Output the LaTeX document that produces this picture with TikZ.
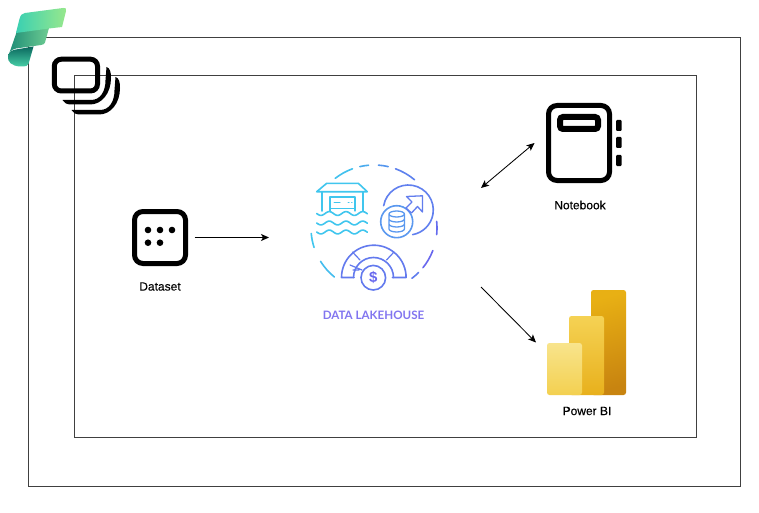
\documentclass[tikz,border=0pt]{standalone}
\usepackage{fontspec}
\setmainfont{Liberation Sans}
\newfontfamily\lakefont{Lato}
\newfontfamily\lblfont[FakeBold=0.3]{Liberation Sans}
\usetikzlibrary{arrows.meta}
\definecolor{frameline}{HTML}{404040}
\definecolor{lakecyan}{HTML}{40C6EE}
\definecolor{lakeblue}{HTML}{5A98EF}
\definecolor{lakepurple}{HTML}{6C5CEE}
\tikzset{
  frame/.style={rectangle,draw=frameline,line width=0.9pt,inner sep=0pt},
  flow/.style={line width=0.85pt,black},
  iconbox/.style={rectangle,draw=black,line width=5pt,rounded corners=8.5pt,fill=white,inner sep=0pt},
  lbl/.style={inner sep=0pt,font=\lblfont\fontsize{12}{14}\selectfont,black},
  lakeline/.style={line width=1.6pt,line cap=round,line join=round},
  bar/.style={rounded corners=2.5pt}
}
\begin{document}
\begin{tikzpicture}[x=1pt,y=-1pt,>={Stealth[length=8pt,width=7pt,inset=2pt]}]
  \useasboundingbox (0,0) rectangle (759,513);
  \fill[white] (0,0) rectangle (759,513);
  % frames
  \node[frame,minimum width=712pt,minimum height=449pt](outer) at (384,262.3){};
  \node[frame,minimum width=622pt,minimum height=362pt](inner) at (385,256){};
  % logo
  \shade[left color={rgb,255:red,28;green,140;blue,118},right color={rgb,255:red,110;green,204;blue,146}]
    (17,31) -- (49,28) -- (45,42.5) .. controls (44.5,44) and (43.5,44.5) .. (41,45) -- (16,48.5)
    .. controls (11,49.5) and (8.5,53) .. (8,57) -- cycle;
  \shade[left color={rgb,255:red,58;green,208;blue,178},right color={rgb,255:red,152;green,232;blue,140}]
    (25,13) -- (63,8) .. controls (66,7.6) and (66.5,9) .. (66,11) -- (62,27) -- (49,28.5) -- (16,33)
    -- (19.5,19) .. controls (20.5,15) and (22,13.4) .. (25,13) -- cycle;
  \shade[top color={rgb,255:red,10;green,104;blue,94},bottom color={rgb,255:red,70;green,206;blue,166}]
    (33.5,46.5) -- (28.5,64) .. controls (28,66) and (26,66.5) .. (20,66.5)
    .. controls (12,66) and (7,62) .. (8,56) .. controls (9,52) and (12,50) .. (16,49.5) -- cycle;
  % stack icon
  \draw[black,line width=5pt,rounded corners=7pt] (54.3,59.2) rectangle (97.5,91);
  \fill[black] (106.5,67) .. controls (110,68) and (111,72) .. (111,78) .. controls (111,93) and (102,104.5) .. (90,104.5)
    -- (71,104.5) .. controls (67,104.5) and (64,103) .. (62.5,100) -- (91,100)
    .. controls (100,100) and (105.5,92) .. (105.5,80) -- cycle;
  \fill[black,shift={(9,10)}] (106.5,67) .. controls (110,68) and (111,72) .. (111,78) .. controls (111,93) and (102,104.5) .. (90,104.5)
    -- (71,104.5) .. controls (67,104.5) and (64,103) .. (62.5,100) -- (91,100)
    .. controls (100,100) and (105.5,92) .. (105.5,80) -- cycle;
  % dataset
  \node[iconbox,minimum width=51pt,minimum height=52pt,outer sep=9pt](dataset) at (160,237.5){};
  \foreach \px/\py in {148/230,160/230,172/230,148/242.7,160/242.7}{
    \fill[black] (\px,\py) circle (3.3);
  }
  \node[lbl](datasetlabel) at (160,286.5){Dataset};
  % lakehouse ring
  \node[minimum width=212pt,minimum height=99pt,inner sep=0pt,outer sep=0pt](lake) at (375,237.5){};
  \foreach \a/\b/\m in {-128/-110/5,-103/-95/25,-86/-77/45,-70/-50/65,-6/6/85,21/39/90,45/53/70,
                        -185/-198/0,-212/-231/8}{
    \draw[lakeline,lakepurple!\m!lakecyan] (374,228) ++(\a:63) arc[start angle=\a,end angle=\b,radius=63];
  }
  % lakehouse boathouse
  \draw[lakeline,lakecyan] (316.7,191.7) -- (326.7,183.3) -- (358.3,183.3) -- (367.3,191.7) -- cycle;
  \draw[lakeline,lakecyan] (321.7,192) -- (321.7,211) (362.7,192) -- (362.7,211);
  \draw[lakeline,lakecyan,line width=1.3pt] (330,211) -- (330,197) -- (355,197) -- (355,211);
  \draw[lakeline,lakecyan,line width=1pt] (330,208) -- (355,208) (334,202.5) -- (340,202.5) (348,202.5) -- (349,202.5) (351.5,202.5) -- (352,202.5);
  \foreach \wy in {213.5,223,232}{
    \draw[lakeline,lakecyan] plot[domain=316.7:367.3,samples=50,smooth] (\x,{\wy+1.9*sin((\x-316.7)*21.5)});
  }
  % lakehouse database
  \draw[lakeline,lakeblue!60!lakepurple] (408.3,210) ++(-170:25) arc[start angle=-170,end angle=80,radius=25];
  \draw[lakeline,lakeblue,fill=white] (396.7,221.7) circle (16);
  \draw[lakeline,lakeblue,line width=1.3pt] (389,214) -- (389,229) arc[start angle=180,end angle=0,x radius=7.7,y radius=3] -- (404.4,214)
    (396.7,214) ellipse (7.7 and 3)
    (389,219) arc[start angle=180,end angle=0,x radius=7.7,y radius=3]
    (389,224) arc[start angle=180,end angle=0,x radius=7.7,y radius=3];
  \draw[lakeline,lakeblue!55!lakepurple,line width=1.3pt,fill=white] (406.5,196.5) -- (422.5,195.8) -- (422.5,212) -- (417.5,206.5) -- (411.5,213) -- (406,208) -- (412,202) -- cycle;
  % lakehouse gauge
  \draw[lakeline,lakeblue!50!lakepurple] (354,277.5) -- (341.5,277.5) arc[start angle=180,end angle=360,radius=32.3] -- (392.5,277.5);
  \draw[lakeline,lakeblue!50!lakepurple] (353.5,277.5) arc[start angle=180,end angle=360,radius=20];
  \draw[lakeline,lakeblue!50!lakepurple,line width=1.2pt] (352.5,252) -- (360,260) (394,252) -- (386.5,260) (350,265) -- (362,270) (353,270) -- (359,270);
  \draw[lakeline,lakeblue!50!lakepurple,fill=white] (373.3,277.7) circle (12.3);
  \node[inner sep=0pt,text=lakepurple!80!lakeblue,font=\bfseries\fontsize{15}{15}\selectfont](dollar) at (373.3,277.7){\$};
  \node[inner sep=0pt,text=lakepurple!85!white,font=\lakefont\bfseries\fontsize{11.6}{14}\selectfont](lakelabel) at (373.5,315.5){DATA LAKEHOUSE};
  % notebook
  \node[iconbox,minimum width=61pt,minimum height=75pt,outer sep=14pt](notebook) at (579,143){};
  \draw[black,line width=6pt,rounded corners=3pt] (560,117) rectangle (598,129);
  \foreach \ny in {120,137,155}{
    \fill[black,rounded corners=1pt] (616,\ny) rectangle (621.5,\ny+11);
  }
  \node[lbl](notebooklabel) at (580,205){Notebook};
  % power bi
  \node[minimum width=79pt,minimum height=105pt,inner sep=0pt,outer sep=11pt](powerbi) at (586.5,342.5){};
  \shade[bar,top color={rgb,255:red,232;green,176;blue,20},bottom color={rgb,255:red,200;green,132;blue,16},shading angle=15] (591,290) rectangle (626,395);
  \shade[bar,top color={rgb,255:red,245;green,210;blue,84},bottom color={rgb,255:red,232;green,176;blue,28}] (569,316) rectangle (604,395);
  \shade[bar,top color={rgb,255:red,248;green,228;blue,140},bottom color={rgb,255:red,243;green,208;blue,80}] (547,343) rectangle (582,395);
  \node[lbl](powerbilabel) at (587,411){Power BI};
  % connectors
  \draw[flow,->] (dataset.east) -- (lake.west);
  \draw[flow,<->] (lake.north east) -- (notebook.west);
  \draw[flow,->] (lake.south east) -- (powerbi.west);
\end{tikzpicture}
\end{document}
